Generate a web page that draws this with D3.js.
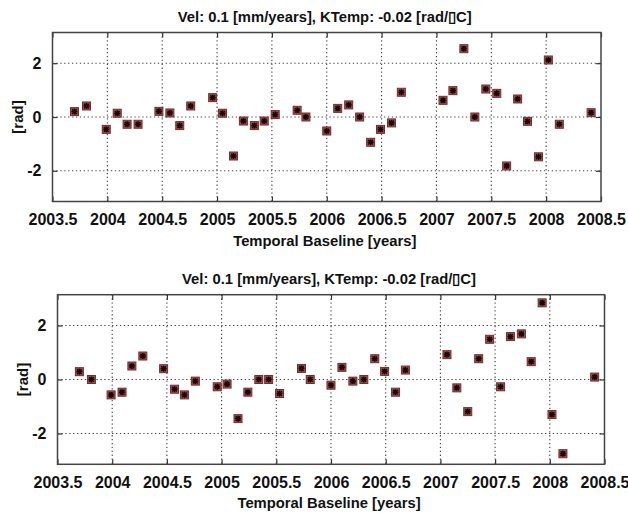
<!DOCTYPE html>
<html>
<head>
<meta charset="utf-8">
<script src="https://cdn.jsdelivr.net/npm/d3@7"></script>
<style>
  body { margin: 0; padding: 0; background: #fff; }
  svg { display: block; }
  text { font-family: "Liberation Sans", Arial, sans-serif; font-weight: bold; fill: #111; }
</style>
</head>
<body>
<script>
// acquisition dates (decimal years), shared by both panels
var years = [2003.70, 2003.81, 2003.99, 2004.09, 2004.18, 2004.28, 2004.47, 2004.57, 2004.66, 2004.76,
             2004.96, 2005.05, 2005.15, 2005.24, 2005.34, 2005.43, 2005.53, 2005.73, 2005.81, 2006.00,
             2006.10, 2006.20, 2006.30, 2006.40, 2006.49, 2006.59, 2006.68, 2007.06, 2007.15, 2007.25,
             2007.35, 2007.45, 2007.55, 2007.64, 2007.74, 2007.83, 2007.93, 2008.02, 2008.12, 2008.41];
// phase residuals [rad], upper panel
var phaseTop = [0.20, 0.41, -0.46, 0.14, -0.27, -0.27, 0.21, 0.15, -0.32, 0.41,
                0.72, 0.14, -1.45, -0.15, -0.32, -0.15, 0.09, 0.25, 0.00, -0.52,
                0.32, 0.45, 0.00, -0.94, -0.46, -0.22, 0.92, 0.62, 0.98, 2.54,
                0.00, 1.04, 0.88, -1.82, 0.67, -0.16, -1.48, 2.12, -0.27, 0.16];
// phase residuals [rad], lower panel
var phaseBottom = [0.29, 0.00, -0.57, -0.47, 0.50, 0.87, 0.40, -0.36, -0.57, -0.06,
                   -0.27, -0.17, -1.45, -0.47, 0.00, 0.00, -0.52, 0.41, 0.00, -0.21,
                   0.45, -0.06, 0.00, 0.77, 0.30, -0.47, 0.35, 0.92, -0.31, -1.19,
                   0.77, 1.49, -0.27, 1.59, 1.69, 0.66, 2.84, -1.30, -2.75, 0.09];
var xTicks = [2003.5, 2004, 2004.5, 2005, 2005.5, 2006, 2006.5, 2007, 2007.5, 2008, 2008.5];
var yTicks = [-2, 0, 2];
var panelTitle = "Vel: 0.1 [mm/years], KTemp: -0.02 [rad/\u25AFC]";
var xLabel = "Temporal Baseline [years]";
var yLabel = "[rad]";

var width = 628, height = 513;
var svg = d3.select("body").append("svg")
    .attr("width", width)
    .attr("height", height);

function drawPanel(values, box) {
    var x = d3.scaleLinear().domain([2003.5, 2008.5]).range([box.left, box.right]);
    var y = d3.scaleLinear().domain([-Math.PI, Math.PI]).range([box.bottom, box.top]);
    var w = box.right - box.left, h = box.bottom - box.top;
    var g = svg.append("g");

    // dotted grid
    g.append("g")
        .selectAll("line.gx")
        .data(xTicks.slice(1, -1))
        .enter().append("line")
        .attr("x1", function(d){ return x(d); })
        .attr("x2", function(d){ return x(d); })
        .attr("y1", box.top).attr("y2", box.bottom)
        .style("stroke", "#444").style("stroke-width", 1.1)
        .style("stroke-dasharray", "1.3,2.6");
    g.append("g")
        .selectAll("line.gy")
        .data(yTicks)
        .enter().append("line")
        .attr("y1", function(d){ return y(d); })
        .attr("y2", function(d){ return y(d); })
        .attr("x1", box.left).attr("x2", box.right)
        .style("stroke", "#444").style("stroke-width", 1.1)
        .style("stroke-dasharray", "1.3,2.6");

    // axes with inward ticks (bottom/left labelled, top/right plain)
    var fmt = function(d){ return String(d); };
    g.append("g").attr("transform", "translate(0," + box.bottom + ")")
        .call(d3.axisBottom(x).tickValues(xTicks).tickFormat(fmt).tickSizeInner(-5).tickSizeOuter(0).tickPadding(12));
    g.append("g").attr("transform", "translate(" + box.left + ",0)")
        .call(d3.axisLeft(y).tickValues(yTicks).tickFormat(fmt).tickSizeInner(-5).tickSizeOuter(0).tickPadding(11));
    g.append("g").attr("transform", "translate(0," + box.top + ")")
        .call(d3.axisTop(x).tickValues(xTicks).tickFormat("").tickSizeInner(-5).tickSizeOuter(0));
    g.append("g").attr("transform", "translate(" + box.right + ",0)")
        .call(d3.axisRight(y).tickValues(yTicks).tickFormat("").tickSizeInner(-5).tickSizeOuter(0));
    g.selectAll(".domain").remove();
    g.selectAll(".tick line").style("stroke", "#333").style("stroke-width", 1.2);
    g.selectAll(".tick text").style("font-size", "16px").style("font-family", "'Liberation Sans', Arial, sans-serif")
        .style("font-weight", "bold").style("fill", "#111");

    g.append("rect")
        .attr("x", box.left).attr("y", box.top)
        .attr("width", w).attr("height", h)
        .style("fill", "none").style("stroke", "#444").style("stroke-width", 1.5);

    // markers: reddish square with dark asterisk
    var pts = g.append("g").selectAll("g")
        .data(values)
        .enter().append("g")
        .attr("transform", function(d, i){ return "translate(" + x(years[i]) + "," + y(d) + ")"; });
    pts.append("rect")
        .attr("x", -4).attr("y", -4).attr("width", 8).attr("height", 8)
        .style("fill", "#9a5050").style("stroke", "#7a2a2a").style("stroke-width", 1);
    var arms = [[-3, 0, 3, 0], [0, -3, 0, 3], [-2.3, -2.3, 2.3, 2.3], [-2.3, 2.3, 2.3, -2.3]];
    arms.forEach(function(a){
        pts.append("line")
            .attr("x1", a[0]).attr("y1", a[1]).attr("x2", a[2]).attr("y2", a[3])
            .style("stroke", "#140202").style("stroke-width", 1.5);
    });

    // texts
    g.append("text")
        .attr("x", (box.left + box.right) / 2 - 2).attr("y", box.top - 11)
        .attr("text-anchor", "middle").style("font-size", "14.8px")
        .text(panelTitle);
    g.append("text")
        .attr("x", (box.left + box.right) / 2 - 2).attr("y", box.bottom + 44)
        .attr("text-anchor", "middle").style("font-size", "14.8px")
        .text(xLabel);
    g.append("text")
        .attr("transform", "translate(" + (box.left - 30) + "," + ((box.top + box.bottom) / 2) + ") rotate(-90)")
        .attr("text-anchor", "middle").style("font-size", "15px")
        .text(yLabel);
}

drawPanel(phaseTop, {left: 52.5, right: 601, top: 32.5, bottom: 201.5});
drawPanel(phaseBottom, {left: 57.5, right: 604.5, top: 294.7, bottom: 464.3});
</script>
</body>
</html>
